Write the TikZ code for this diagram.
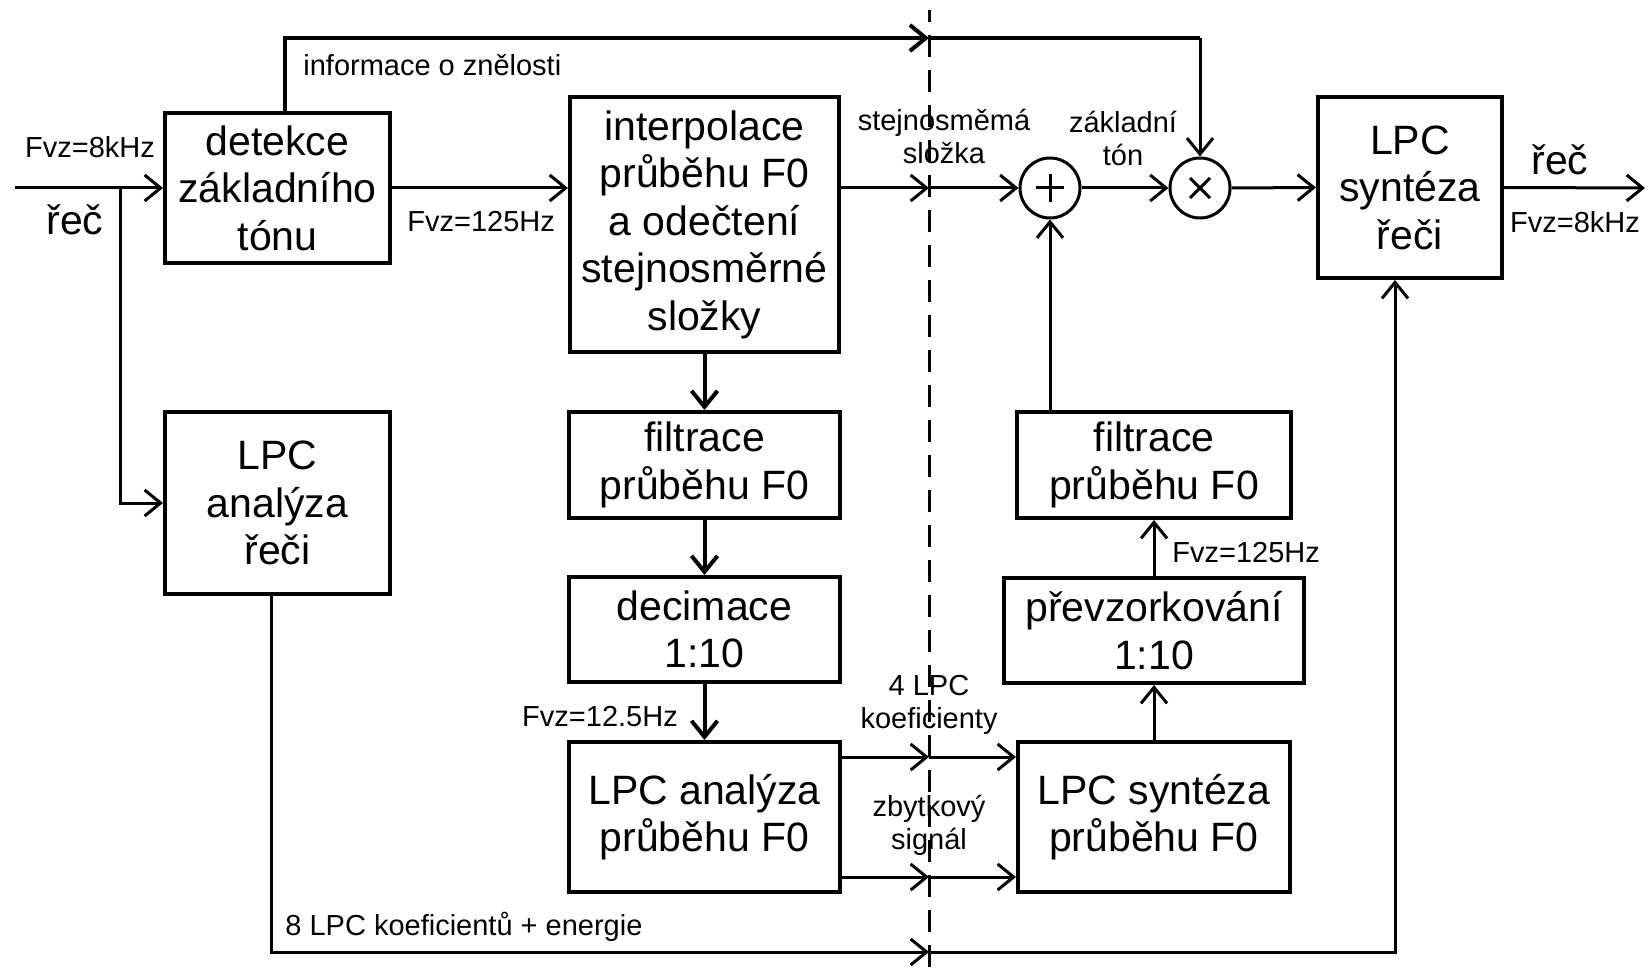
\documentclass[tikz,border=0pt]{standalone}
\usepackage{fontspec}
\setmainfont{Liberation Sans}
\usetikzlibrary{arrows.meta}
\newcommand\boxtxt{\fontsize{20.5}{23.75}\selectfont}
\newcommand\lbltxt{\fontsize{14.5}{16.5}\selectfont}
\begin{document}
\begin{tikzpicture}[x=0.5pt,y=-0.5pt,
  blk/.style={draw, line width=2pt, inner sep=0pt, align=center, font=\boxtxt},
  op/.style={draw, circle, line width=1.5pt, minimum size=30pt, inner sep=0pt},
  conn/.style={line width=1.5pt},
  heavy/.style={line width=2pt},
  arr/.style={-{Straight Barb[length=8pt,width=13pt]}},
  lbl/.style={font=\lbltxt, inner sep=0pt, align=center},
  big/.style={font=\boxtxt, inner sep=0pt},
  cut/.style={line width=1.5pt, dash pattern=on 11pt off 6.5pt, dash phase=5pt}]
\useasboundingbox (0,0) rectangle (1648,978);

% processing blocks
\node[blk, minimum width=112.5pt, minimum height=75pt] (det) at (277.5,188) {detekce\\základního\\tónu};
\node[blk, minimum width=112.5pt, minimum height=91pt] (lpca) at (277.5,503) {LPC\\analýza\\řeči};
\node[blk, minimum width=134.5pt, minimum height=127.5pt] (interp) at (704.5,224.5) {interpolace\\průběhu F0\\a odečtení\\stejnosměrné\\složky};
\node[blk, minimum width=135.5pt, minimum height=53pt] (filt1) at (704.5,465) {filtrace\\průběhu F0};
\node[blk, minimum width=135.5pt, minimum height=52.5pt] (dec) at (704.5,629.5) {decimace\\1:10};
\node[blk, minimum width=135.5pt, minimum height=75pt] (lpcaf) at (704.5,817) {LPC analýza\\průběhu F0};
\node[blk, minimum width=136pt, minimum height=75pt] (lpcsf) at (1154,817) {LPC syntéza\\průběhu F0};
\node[blk, minimum width=150pt, minimum height=52.5pt] (prev) at (1154,630.5) {převzorkování\\1:10};
\node[blk, minimum width=137pt, minimum height=53pt] (filt2) at (1154,465) {filtrace\\průběhu F0};
\node[blk, minimum width=92pt, minimum height=90.5pt] (lpcs) at (1410,187.5) {LPC\\syntéza\\řeči};

% adder and multiplier
\node[op] (plus) at (1050,188) {};
\node[op] (times) at (1200,188) {};
\draw[line width=1.5pt] ([shift={(-14,0)}]plus.center) -- ([shift={(14,0)}]plus.center);
\draw[line width=1.5pt] ([shift={(0,-14)}]plus.center) -- ([shift={(0,14)}]plus.center);
\draw[line width=1.5pt] ([shift={(-10,-10)}]times.center) -- ([shift={(10,10)}]times.center);
\draw[line width=1.5pt] ([shift={(-10,10)}]times.center) -- ([shift={(10,-10)}]times.center);

% transmission boundary
\coordinate (cuttop) at (929,10);
\coordinate (cutbot) at (929,978);
\draw[cut] (cuttop) -- (cutbot);

% points on the boundary and free ends
\coordinate (c1) at (929,38);
\coordinate (c2) at (929,188);
\coordinate (c3) at (929,757);
\coordinate (c4) at (929,877);
\coordinate (c5) at (929,952);
\coordinate (in) at (15,188);
\coordinate (br) at (120,188);
\coordinate (out) at (1645,188);
\coordinate (corner) at (1200,38);

% speech input
\draw[conn, arr] (in) -- (det.west);
\draw[conn, arr] (br) |- (lpca.west);

% voicing information
\draw[heavy, arr] ([xshift=3.75pt]det.north) |- (c1);
\draw[heavy] (c1) -- (corner);
\draw[conn, arr] (corner) -- (times.north);

% pitch path
\draw[conn, arr] (det.east) -- (det.east -| interp.west);
\draw[conn, arr] (interp.east |- c2) -- (c2);
\draw[conn, arr] (c2) -- (plus.west);
\draw[conn, arr] (plus.east) -- (times.west);
\draw[conn, arr] (times.east) -- (lpcs.west);
\draw[conn, arr] (lpcs.east) -- (out);

\draw[heavy, arr] (interp.south) -- (filt1.north);
\draw[heavy, arr] (filt1.south) -- (dec.north);
\draw[heavy, arr] (dec.south) -- (lpcaf.north);

\draw[conn, arr] (lpcaf.east |- c3) -- (c3);
\draw[conn, arr] (c3) -- (c3 -| lpcsf.west);
\draw[conn, arr] (lpcaf.east |- c4) -- (c4);
\draw[conn, arr] (c4) -- (c4 -| lpcsf.west);

\draw[conn, arr] (lpcsf.north) -- (prev.south);
\draw[conn, arr] (prev.north) -- (filt2.south);
\draw[conn, arr] (filt2.north -| plus) -- (plus.south);

% LPC parameters of speech
\draw[conn, arr] ([xshift=-3.25pt]lpca.south) |- (c5);
\draw[conn, arr] (c5) -| ([xshift=-7.5pt]lpcs.south);

% labels
\node[lbl] (fin) at (90,147) {Fvz=8kHz};
\node[big] (recin) at (75,220) {řeč};
\node[lbl, anchor=west] (vinfo) at (303,65) {informace o znělosti};
\node[lbl, anchor=west] (f125a) at (407,222) {Fvz=125Hz};
\node[lbl] (dc) at (944,136) {stejnosměmá\\složka};
\node[lbl] (f0) at (1123,138) {základní\\tón};
\node[big] (recout) at (1560,160) {řeč};
\node[lbl] (fout) at (1575,222) {Fvz=8kHz};
\node[lbl, anchor=west] (f125b) at (1172,553) {Fvz=125Hz};
\node[lbl] (f12) at (600,717) {Fvz=12.5Hz};
\node[lbl] (k4) at (929,705) {4 LPC\\koeficienty};
\node[lbl] (res) at (929,825) {zbytkový\\signál};
\node[lbl, anchor=west] (k8) at (285,927) {8 LPC koeficientů + energie};
\end{tikzpicture}
\end{document}
